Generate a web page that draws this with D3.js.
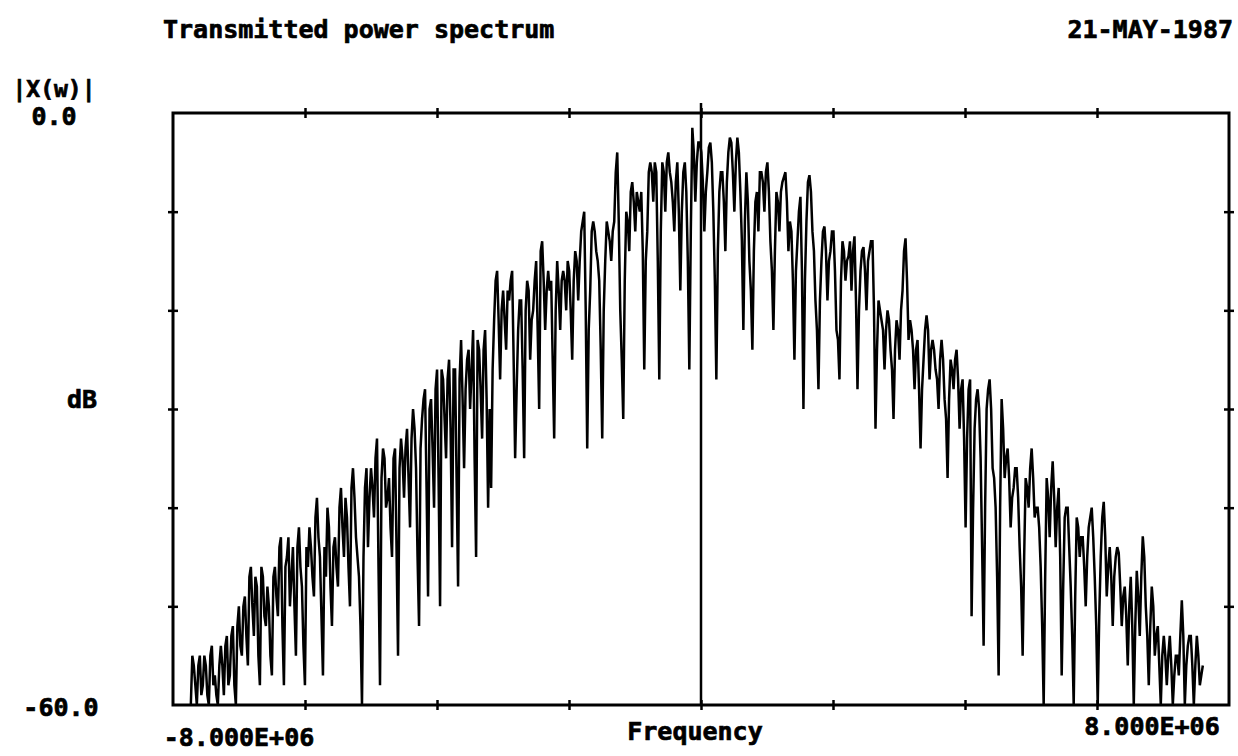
<!DOCTYPE html>
<html>
<head>
<meta charset="utf-8">
<script src="https://cdn.jsdelivr.net/npm/d3@7"></script>
<style>
  html, body { margin: 0; padding: 0; background: #fff; }
  svg { display: block; }
  text { font-family: "DejaVu Sans Mono", "Liberation Mono", monospace; font-weight: bold; fill: #000; stroke: #000; stroke-width: 0.7px; }
</style>
</head>
<body>
<svg id="chart" width="1238" height="756"></svg>
<script>
// ---- data ----
const titleText = "Transmitted power spectrum";
const dateText = "21-MAY-1987";
const yAxisName = "|X(w)|";
const yUnit = "dB";
const xAxisName = "Frequency";
const yDomain = [-60, 0];
const yTickLabels = ["0.0", "-60.0"];
const yTickValues = [-10, -20, -30, -40, -50];
const xDomain = [-8e6, 8e6];
const xTickValues = [-6e6, -4e6, -2e6, 0, 2e6, 4e6, 6e6];
const xEndLabels = ["-8.000E+06", "8.000E+06"];
const freqStartHz = -7.73e6;
const freqStepHz = 22750;
// even-indexed samples (dB)
const powerDbEven = [
  -60,-56,-60,-55,-58,-56,-60,-54,-57,-60,
  -54,-59,-53,-57,-52,-60,-50,-55,-49,-56,
  -46,-53,-48,-58,-47,-52,-50,-57,-46,-51,
  -43,-58,-45,-50,-44,-55,-42,-48,-58,-46,
  -44,-49,-39,-45,-57,-47,-42,-52,-43,-48,
  -38,-45,-41,-50,-36,-43,-47,-60,-38,-44,
  -36,-41,-33,-58,-34,-40,-37,-45,-34,-55,
  -33,-39,-32,-42,-30,-36,-52,-31,-28,-49,
  -29,-40,-26,-50,-27,-35,-25,-44,-26,-48,
  -23,-36,-25,-30,-22,-45,-24,-33,-22,-40,
  -38,-21,-16,-27,-18,-24,-19,-16,-35,-22,
  -19,-35,-17,-25,-20,-15,-30,-13,-22,-16,
  -17,-33,-15,-22,-16,-20,-16,-25,-14,-19,
  -12,-10,-34,-18,-11,-14,-17,-33,-15,-12,
  -15,-11,-4,-20,-31,-10,-14,-7,-12,-9,
  -8,-26,-12,-5,-9,-6,-27,-5,-10,-4,
  -7,-12,-5,-18,-6,-8,-26,-1.5,-9,-3,
  -4,-12,-6,-3,-10,-27,-8,-6,-14,-4,
  -3,-10,-2.5,-8,-22,-6,-15,-24,-9,-12,
  -6,-10,-5,-13,-22,-8,-12,-7,-6,-14,
  -12,-25,-13,-8.5,-30,-11,-6.3,-12,-19,-28,
  -15,-11.5,-19,-14,-12,-22,-27,-13,-17,-14.5,
  -18,-12.5,-28,-16,-13.6,-20,-14,-13,-32,-19,
  -21,-26,-20,-24,-31,-21,-25,-18,-12.7,-23,
  -22,-28,-23,-34,-25,-20.5,-27,-23,-26,-30,
  -23,-29,-37,-25,-28,-24,-32,-27,-42,-28,
  -51,-32,-28,-35,-54,-30,-27,-36,-40,-57,
  -29,-37,-34,-42,-38,-36,-44,-55,-37,-40,
  -34,-41,-40,-46,-60,-37,-43,-35.3,-44,-38,
  -57,-41,-40,-48,-60,-41,-45,-43,-50,-42,
  -40,-47,-60,-45,-39.4,-49,-44,-52,-45,-44.6,
  -52,-48,-56,-47,-60,-46.4,-53,-42.9,-50,-58,
  -48,-55,-52,-60,-53,-58,-53,-60,-55,-57,
  -49.4,-60,-54,-53,-60,-53,-58,-56
];
// odd-indexed samples (dB), between the even ones
const powerDbOdd = [
  -55,-58,-56,-59,-55,-59,-55,-58,-59,-56,
  -56,-54,-58,-53,-58,-52,-54,-50,-53,-47,
  -50,-47,-55,-46,-51,-48,-55,-47,-49,-44,
  -52,-46,-43,-47,-50,-44,-46,-54,-44,-42,
  -47,-41,-43,-51,-44,-40,-48,-44,-46,-40,
  -42,-39,-46,-38,-39,-45,-52,-45,-36,-39,
  -38,-35,-46,-37,-35,-39,-42,-35,-44,-36,
  -35,-34,-37,-33,-32,-45,-34,-29,-38,-30,
  -34,-28,-37,-26,-31,-27,-32,-26,-37,-27,
  -29,-28,-24,-26,-35,-23,-28,-24,-29,-30,
  -26,-17,-21,-20,-21,-18,-17,-25,-28,-19,
  -26,-20,-18,-21,-17,-22,-14,-17,-18,-18,
  -25,-20,-18,-17,-17,-15,-20,-17,-15,-15,
  -11,-20,-22,-12,-12,-15,-24,-20,-11,-13,
  -12,-6,-11,-25,-17,-11,-8,-9,-8,-10,
  -14,-15,-6,-6,-5,-15,-12,-6,-5,-6,
  -9,-7,-10,-10,-5,-15,-12,-4,-5,-3,
  -7,-8,-3.5,-5,-17,-14,-6,-9,-7,-2.5,
  -6,-5,-4,-13,-11,-9,-18,-14,-8,-6,
  -7,-6,-8,-16,-14,-9,-8,-6.5,-9,-11,
  -17,-16,-10,-16,-17,-7,-8,-14,-22,-19,
  -12,-14,-15,-12,-16,-23,-17,-14,-15,-13,
  -14,-19,-20,-14,-16,-15,-13,-20,-24,-20,
  -22,-22,-21,-26,-24,-22,-20,-14,-17,-21,
  -24,-24,-28,-28,-22,-22,-24,-24,-27,-25,
  -25,-31,-29,-26,-25,-27,-28,-33,-33,-27,
  -40,-29,-30,-44,-40,-28,-30,-37,-47,-40,
  -32,-35,-37,-39,-36,-39,-48,-45,-38,-36,
  -37,-40,-42,-52,-47,-39,-38,-39,-40,-45,
  -48,-40,-44,-53,-49,-42,-43,-46,-45,-41,
  -43,-52,-51,-41,-43,-46,-47,-47,-44,-48,
  -49,-51,-50,-52,-52,-49,-47,-45,-53,-52,
  -50,-53,-56,-55,-55,-55,-56,-57,-55,-53,
  -53,-56,-53,-56,-56,-55,-57
];

// ---- drawing ----
const svg = d3.select("#chart");
const x = d3.scaleLinear().domain(xDomain).range([173, 1229]);
const y = d3.scaleLinear().domain(yDomain).range([705, 113]).clamp(true);

const points = [];
powerDbEven.forEach((v, i) => {
  points.push({ f: freqStartHz + (2 * i) * freqStepHz, v });
  if (i < powerDbOdd.length) points.push({ f: freqStartHz + (2 * i + 1) * freqStepHz, v: powerDbOdd[i] });
});

// spectrum line
svg.append("path")
  .datum(points)
  .attr("fill", "none")
  .attr("stroke", "#000")
  .attr("stroke-width", 2.5)
  .attr("stroke-linejoin", "miter")
  .attr("d", d3.line().x(d => x(d.f)).y(d => y(d.v)));

// zero-frequency line
svg.append("line")
  .attr("x1", x(0)).attr("x2", x(0))
  .attr("y1", y(0) - 10).attr("y2", y(-60))
  .attr("stroke", "#000").attr("stroke-width", 2.5);

// frame
svg.append("rect")
  .attr("x", x(xDomain[0])).attr("y", y(0))
  .attr("width", x(xDomain[1]) - x(xDomain[0]))
  .attr("height", y(-60) - y(0))
  .attr("fill", "none").attr("stroke", "#000").attr("stroke-width", 3);

// axes ticks (crossing marks)
const tickLen = 5;
function addAxis(ax, tx, ty) {
  const g = svg.append("g").attr("transform", `translate(${tx},${ty})`).call(ax);
  g.select(".domain").remove();
  g.selectAll(".tick line").attr("stroke", "#000").attr("stroke-width", 2.5);
}
const mk = (fn, sc, vals) => fn(sc).tickValues(vals).tickSize(tickLen).tickFormat("");
addAxis(mk(d3.axisTop, x, xTickValues), 0, y(0));
addAxis(mk(d3.axisBottom, x, xTickValues), 0, y(0));
addAxis(mk(d3.axisBottom, x, xTickValues), 0, y(-60));
addAxis(mk(d3.axisTop, x, xTickValues), 0, y(-60));
addAxis(mk(d3.axisLeft, y, yTickValues), x(xDomain[0]), 0);
addAxis(mk(d3.axisRight, y, yTickValues), x(xDomain[0]), 0);
addAxis(mk(d3.axisRight, y, yTickValues), x(xDomain[1]), 0);
addAxis(mk(d3.axisLeft, y, yTickValues), x(xDomain[1]), 0);

// texts
svg.append("text").attr("x", 163).attr("y", 38).attr("font-size", 25).text(titleText);
svg.append("text").attr("x", 1233).attr("y", 38).attr("font-size", 25).attr("text-anchor", "end").text(dateText);
svg.append("text").attr("x", 54).attr("y", 97).attr("font-size", 23).attr("text-anchor", "middle").text(yAxisName);
svg.append("text").attr("x", 54).attr("y", 125).attr("font-size", 25).attr("text-anchor", "middle").text(yTickLabels[0]);
svg.append("text").attr("x", 82).attr("y", 408).attr("font-size", 25).attr("text-anchor", "middle").text(yUnit);
svg.append("text").attr("x", 61).attr("y", 716).attr("font-size", 25).attr("text-anchor", "middle").text(yTickLabels[1]);
svg.append("text").attr("x", 239).attr("y", 746).attr("font-size", 25).attr("text-anchor", "middle").text(xEndLabels[0]);
svg.append("text").attr("x", 1152).attr("y", 735).attr("font-size", 25).attr("text-anchor", "middle").text(xEndLabels[1]);
svg.append("text").attr("x", 695).attr("y", 740).attr("font-size", 25).attr("text-anchor", "middle").text(xAxisName);
</script>
</body>
</html>
